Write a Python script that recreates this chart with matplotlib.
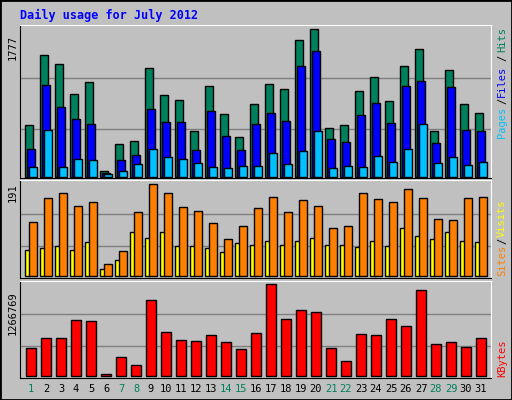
import matplotlib
matplotlib.use("Agg")
import matplotlib.pyplot as plt
from matplotlib.patches import Rectangle

days = list(range(1, 32))
hits = [619,1463,1355,993,1138,64,390,426,1307,981,921,547,1089,752,474,872,1114,1053,1644,1777,583,619,1029,1198,909,1331,1536,547,1282,872,764]
files = [330,1101,836,691,631,48,197,257,812,655,655,318,788,486,318,631,764,667,1331,1512,450,414,740,884,643,1089,1150,402,1077,559,547]
pages = [113,559,113,209,197,32,64,149,330,233,209,161,113,100,125,125,281,149,306,547,100,125,113,245,173,330,631,161,233,137,173]
visits = [112,162,174,147,154,25,52,133,191,174,143,135,110,77,104,141,164,133,158,147,100,104,172,160,154,181,162,120,116,162,164]
sites = [54,58,62,54,71,15,33,93,79,93,62,62,58,50,69,66,73,64,73,79,64,64,60,73,62,100,83,77,91,73,71]
kbytes = [379000,518000,518000,767000,754000,18000,254000,143000,1045000,601000,490000,476000,559000,462000,365000,587000,1266769,781000,906000,878000,379000,199000,573000,559000,781000,684000,1183000,435000,462000,393000,518000]
weekend = {1,7,8,14,15,21,22,28,29}

W, H = 512, 400
fig = plt.figure(figsize=(5.12, 4.0), dpi=100, facecolor="#C0C0C0")
fig.patches.append(Rectangle((0, 0), 1, 1, transform=fig.transFigure, fill=False, ec="black", lw=2))

def ax_at(x0, y0, x1, y1):
    return fig.add_axes([x0 / W, 1 - y1 / H, (x1 - x0) / W, (y1 - y0) / H], facecolor="#C0C0C0")

xl = (1 - 11 / 15, 1 + 460 / 15)
mono = "DejaVu Sans Mono"

def style(ax, ylim, maxv):
    ax.set_xlim(*xl)
    ax.set_ylim(*ylim)
    ax.set_xticks([]); ax.set_yticks([])
    for f in (0.33, 0.68):
        ax.axhline(maxv * f, color="#808080", lw=1, zorder=0)
    for s in ("left", "bottom"):
        ax.spines[s].set_color("black")
    for s in ("top", "right"):
        ax.spines[s].set_color("white")

ax1 = ax_at(20, 24.5, 491, 178)
style(ax1, (-16, 1835), 1777 * 0.985)
ax1.bar([d - 2 / 15 for d in days], hits, width=7.3 / 15, color="#00805C", ec="black", lw=1, zorder=2)
ax1.bar(days, files, width=7.3 / 15, color="#0000FF", ec="black", lw=1, zorder=3)
ax1.bar([d + 2 / 15 for d in days], pages, width=7.3 / 15, color="#00C0FF", ec="black", lw=1, zorder=4)

ax2 = ax_at(20, 180, 491, 278)
style(ax2, (-3.5, 200), 191)
ax2.bar([d - 3.5 / 15 for d in days], sites, width=4.4 / 15, color="#FFFF00", ec="black", lw=1, zorder=2)
ax2.bar([d + 2 / 15 for d in days], visits, width=7.3 / 15, color="#FF8000", ec="black", lw=1, zorder=3)

ax3 = ax_at(20, 281, 491, 378)
style(ax3, (-32000, 1312000), 1266769)
ax3.bar(days, kbytes, width=10 / 15, color="#FF0000", ec="black", lw=1, zorder=2)

fig.text(20 / W, 1 - 15 / H, "Daily usage for July 2012", color="#0000FF", family=mono,
         weight="bold", fontsize=8.5, va="center", ha="left")

def t(x, y, s, c, rot=90, **kw):
    fig.text(x / W, 1 - y / H, s, color=c, family=mono, fontsize=7.5, rotation=rot,
             ha="center", va="center", **kw)

t(13, 48, "1777", "black")
t(13, 193, "191", "black")
t(13, 281 + 32, "1266769", "black")
t(502, 40, "Hits", "#00805C")
t(502, 58, "/", "black")
t(502, 81, "Files", "#0000FF")
t(502, 101, "/", "black")
t(502, 122, "Pages", "#00C0FF")
t(502, 218, "Visits", "#FFFF00")
t(502, 241, "/", "black")
t(502, 260, "Sites", "#FF8000")
t(502, 358, "KBytes", "#FF0000")
for d in days:
    t(31 + 15 * (d - 1), 389, str(d), "#00805C" if d in weekend else "black", rot=0)

fig.savefig("out.png", dpi=100, facecolor=fig.get_facecolor())
